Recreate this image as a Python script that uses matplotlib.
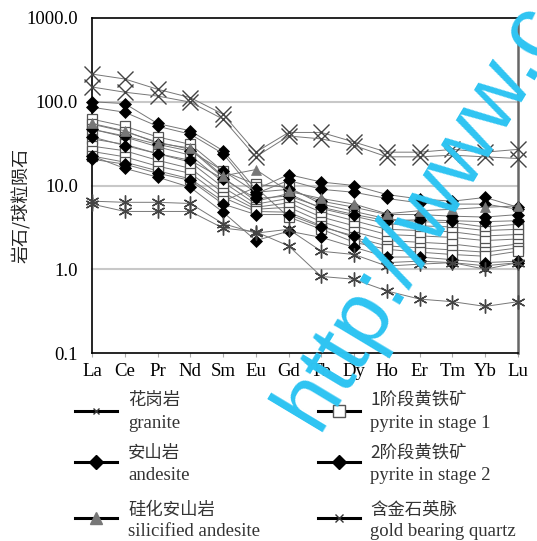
import matplotlib
matplotlib.use("Agg")
import matplotlib.pyplot as plt
from matplotlib.lines import Line2D
import numpy as np

plt.rcParams['font.family'] = ['Liberation Serif', 'Noto Sans CJK SC', 'DejaVu Sans']

# ---------------- data ----------------
elements = ["La", "Ce", "Pr", "Nd", "Sm", "Eu", "Gd", "Tb", "Dy", "Ho", "Er", "Tm", "Yb", "Lu"]

granite = [
    [214, 187, 141, 112, 71, 25, 43, 43, 33, 25, 25, 27, 25, 27],
    [150, 130, 117, 99, 62, 22, 39, 36, 30, 22, 22, 23, 22, 21],
]
andesite = [
    [100, 95, 55, 45, 26, 9.0, 13.5, 11.0, 10.0, 7.8, 6.9, 6.5, 7.2, 5.5],
    [86, 75, 51, 41, 24, 8.0, 11.5, 9.0, 8.3, 7.0, 6.2, 6.0, 6.0, 5.2],
]
silicified_andesite = [
    [55, 45, 32, 28, 13, 15.5, 8.5, 7.0, 6.0, 4.6, 5.0, 5.2, 5.5, 5.7],
]
pyrite_stage1 = [
    [62, 51, 38, 31, 14.8, 10.3, 9.5, 6.0, 4.9, 4.0, 3.7, 3.6, 3.2, 3.45],
    [54, 44, 33, 27, 12.5, 6.5, 8.0, 5.3, 4.3, 3.5, 3.3, 3.2, 2.9, 3.0],
    [47, 38, 29, 23, 11.0, 6.0, 7.0, 4.8, 3.8, 3.0, 2.9, 2.8, 2.5, 2.6],
    [36, 31, 24, 19, 9.5, 5.5, 6.2, 4.2, 3.3, 2.6, 2.5, 2.4, 2.2, 2.3],
    [29.5, 26, 20, 16, 8.2, 5.2, 5.5, 3.7, 2.8, 2.2, 2.1, 2.0, 1.8, 2.0],
    [25.5, 22, 17, 14, 7.2, 4.9, 4.8, 3.3, 2.4, 1.9, 1.8, 1.7, 1.6, 1.8],
    [22.5, 19, 15, 12, 6.5, 9.5, 4.2, 3.0, 2.1, 1.73, 1.6, 1.5, 1.43, 1.64],
]
pyrite_stage2 = [
    [47, 39, 31, 25.7, 15, 8.3, 9.0, 6.5, 5.5, 4.5, 4.5, 4.3, 4.2, 4.5],
    [38, 30, 24, 20, 12, 7.0, 7.5, 5.5, 4.5, 3.8, 3.9, 3.8, 3.7, 3.8],
    [22.5, 16, 12.6, 9.5, 4.8, 2.2, 2.85, 2.4, 1.83, 1.4, 1.4, 1.3, 1.2, 1.25],
    [20.6, 18, 14, 11.5, 6.0, 4.5, 4.5, 3.2, 2.5, 1.2, 1.25, 1.2, 1.1, 1.2],
]
gold_quartz = [
    [6.5, 6.3, 6.3, 6.1, 3.5, 2.7, 3.0, 1.64, 1.5, 1.09, 1.15, 1.2, 1.0, 1.2],
    [6.0, 4.9, 4.9, 4.9, 3.1, 2.8, 1.9, 0.82, 0.76, 0.55, 0.44, 0.41, 0.36, 0.41],
]

y_ticks = [0.1, 1, 10, 100, 1000]
y_tick_labels = ["0.1", "1.0", "10.0", "100.0", "1000.0"]

legend_cn = ["花岗岩", "安山岩", "硅化安山岩", "1阶段黄铁矿", "2阶段黄铁矿", "含金石英脉"]
legend_en = ["granite", "andesite", "silicified andesite", "pyrite in stage 1",
             "pyrite in stage 2", "gold bearing quartz"]

# ---------------- styles ----------------
styles = [
    dict(marker='x', ms=11, mec='#444444', mfc='none', mew=1.0),
    dict(marker='D', ms=6.5, mec='black', mfc='black', mew=0.5),
    dict(marker='^', ms=7.5, mec='#777777', mfc='#777777', mew=0.5),
    dict(marker='s', ms=6.5, mec='#555555', mfc='white', mew=0.9),
    dict(marker='D', ms=6.5, mec='black', mfc='black', mew=0.5),
    dict(marker=(6, 2, 0), ms=10, mec='#444444', mfc='none', mew=1.0),
]
legend_styles = [
    dict(marker='x', ms=5, mec='#333333', mfc='none', mew=1.0),
    dict(marker='D', ms=7, mec='black', mfc='black'),
    dict(marker='^', ms=9, mec='#777777', mfc='#777777'),
    dict(marker='s', ms=8, mec='#555555', mfc='white', mew=1.0),
    dict(marker='D', ms=7, mec='black', mfc='black'),
    dict(marker='x', ms=6, mec='#333333', mfc='none', mew=1.0),
]
groups = [granite, andesite, silicified_andesite, pyrite_stage1, pyrite_stage2, gold_quartz]

W, H = 537, 541
fig = plt.figure(figsize=(W / 100, H / 100), dpi=100)
ax = fig.add_axes([92 / W, 1 - 353 / H, (518 - 92) / W, (353 - 18) / H])

x = np.arange(len(elements))
draw_order = [3, 4, 1, 2, 5, 0]
for gi in draw_order:
    for series in groups[gi]:
        ax.plot(x, series, color='#777777', lw=0.7, **styles[gi], zorder=3)

ax.set_yscale('log')
ax.set_ylim(0.1, 1000)
ax.set_xlim(0, len(elements) - 1)
ax.set_yticks(y_ticks)
ax.set_yticklabels(y_tick_labels)
ax.minorticks_off()
ax.set_xticks(x)
ax.set_xticklabels(elements)
ax.tick_params(axis='y', length=0, labelsize=13.5, pad=10)
ax.tick_params(axis='x', length=3, color='#aaaaaa', labelsize=13.5, pad=4)
for t in [1, 10, 100]:
    ax.axhline(t, color='#c8c8c8', lw=1.5, zorder=1)
for s in ['left', 'bottom', 'top']:
    ax.spines[s].set_color('black')
    ax.spines[s].set_linewidth(1.2)
ax.spines['right'].set_color('#666666')
ax.spines['right'].set_linewidth(1.8)
for ln in ax.lines:
    ln.set_clip_on(False)

fig.text(21 / W, 1 - 205 / H, "岩石/球粒陨石", rotation=90, ha='center', va='center',
         fontsize=13, family=['Noto Sans CJK SC'], color='#222222')

# ---------------- legend (manual) ----------------
cols = [dict(x0=75, x1=117, tx=128), dict(x0=318, x1=360, tx=370)]
rows = [dict(line=411, cn=400, en=423), dict(line=462, cn=453, en=475), dict(line=518, cn=510, en=532)]
for i in range(6):
    c = cols[i // 3]
    r = rows[i % 3]
    xs = [c['x0'] / W, c['x1'] / W]
    ys = [1 - r['line'] / H] * 2
    fig.add_artist(Line2D(xs, ys, transform=fig.transFigure, color='black', lw=2.2))
    fig.add_artist(Line2D([(c['x0'] + c['x1']) / 2 / W], [ys[0]], transform=fig.transFigure,
                          ls='none', **legend_styles[i]))
    fig.text(c['tx'] / W, 1 - r['cn'] / H, legend_cn[i], ha='left', va='center',
             fontsize=12.5, family=['Noto Sans CJK SC', 'Liberation Serif'], color='#333333')
    fig.text(c['tx'] / W, 1 - r['en'] / H, legend_en[i], ha='left', va='center',
             fontsize=13.5, family=['Liberation Serif'], color='#333333')

# watermark
fig.text(318 / W, 1 - 432 / H, "http://www.c", rotation=59, rotation_mode='anchor',
         ha='left', va='baseline', fontsize=64, family=['Liberation Sans'],
         color='#2ec4f2', zorder=10)

fig.savefig("out.png", dpi=100)
